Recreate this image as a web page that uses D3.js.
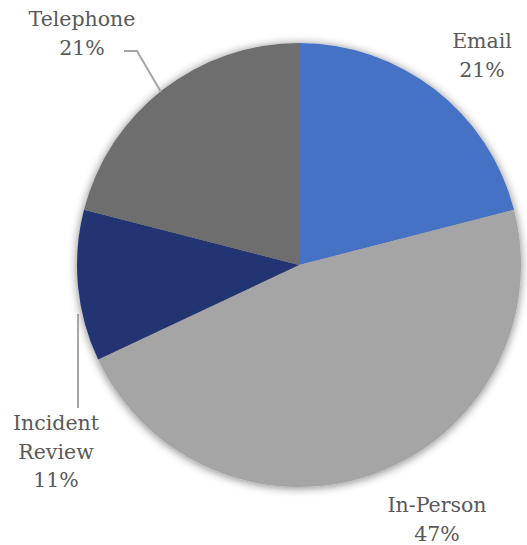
<!DOCTYPE html>
<html>
<head>
<meta charset="utf-8">
<script src="https://cdn.jsdelivr.net/npm/d3@7"></script>
<style>
  html, body { margin: 0; padding: 0; background: #fff; }
  svg { display: block; }
  text { font-family: "DejaVu Serif", "Liberation Serif", serif; fill: #595959; }
</style>
</head>
<body>
<svg id="chart" width="527" height="545"></svg>
<script>
// Contact channel shares (percent)
const categories = ["Email", "In-Person", "Incident Review", "Telephone"];
const values = [21, 47, 11, 21];
const labelLines = [["Email"], ["In-Person"], ["Incident", "Review"], ["Telephone"]];
const colors = ["#4472c4", "#a5a5a5", "#223572", "#6e6e6e"];

const width = 527, height = 545;
const cx = 299, cy = 265, radius = 222;

const svg = d3.select("#chart");

// soft shadow under the pie
const defs = svg.append("defs");
const f = defs.append("filter").attr("id", "shadow")
  .attr("x", "-20%").attr("y", "-20%").attr("width", "140%").attr("height", "140%");
f.append("feGaussianBlur").attr("in", "SourceAlpha").attr("stdDeviation", 5).attr("result", "b");
f.append("feOffset").attr("in", "b").attr("dx", 0).attr("dy", 1).attr("result", "o");
f.append("feComponentTransfer").attr("in", "o").attr("result", "s")
  .append("feFuncA").attr("type", "linear").attr("slope", 0.5);
const merge = f.append("feMerge");
merge.append("feMergeNode").attr("in", "s");
merge.append("feMergeNode").attr("in", "SourceGraphic");

const data = categories.map((c, i) => ({ name: c, value: values[i], lines: labelLines[i], color: colors[i] }));

const pie = d3.pie().sort(null).value(d => d.value);
const arcs = pie(data);
const arc = d3.arc().innerRadius(0).outerRadius(radius);

const g = svg.append("g").attr("transform", `translate(${cx},${cy})`);
g.append("g").attr("filter", "url(#shadow)")
  .selectAll("path").data(arcs).join("path")
  .attr("d", arc)
  .attr("fill", d => d.data.color);

// leader lines
const leader = d3.line();
const leaders = [
  { idx: 3, pts: [[124 - cx, 51 - cy], [137 - cx, 51 - cy], [161 - cx, 92 - cy]] },
  { idx: 2, pts: [[78 - cx, 314 - cy], [78 - cx, 408 - cy]] }
];
g.selectAll("path.leader").data(leaders).join("path")
  .attr("class", "leader")
  .attr("d", d => leader(d.pts))
  .attr("fill", "none")
  .attr("stroke", "#a6a6a6")
  .attr("stroke-width", 2);

// labels: name lines followed by the percentage
const labelPos = [
  { x: 482, y: 48 },
  { x: 437, y: 512 },
  { x: 56, y: 430 },
  { x: 82, y: 26 }
];
const lineH = 28.5;
arcs.forEach((a, i) => {
  const lines = a.data.lines.concat([d3.format(".0f")(a.data.value) + "%"]);
  const t = svg.append("text")
    .attr("x", labelPos[i].x)
    .attr("y", labelPos[i].y)
    .attr("text-anchor", "middle")
    .style("font-size", "20.5px");
  lines.forEach((s, k) => {
    t.append("tspan").attr("x", labelPos[i].x).attr("dy", k === 0 ? 0 : lineH).text(s);
  });
});
</script>
</body>
</html>
